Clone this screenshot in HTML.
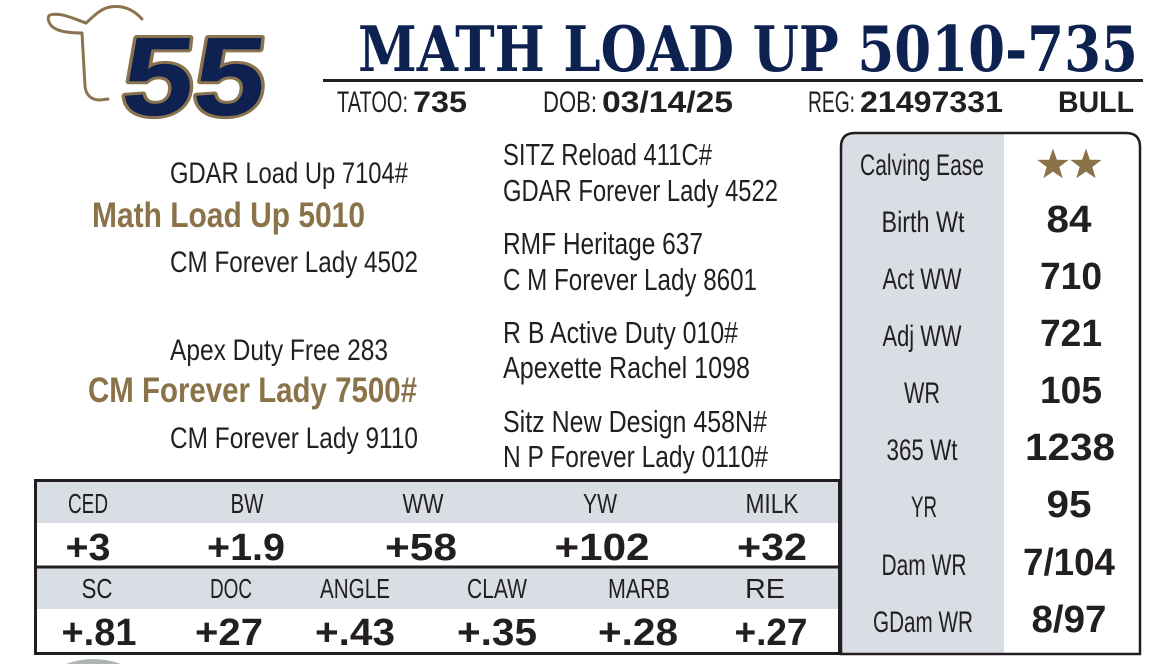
<!DOCTYPE html>
<html>
<head>
<meta charset="utf-8">
<style>
  html,body{margin:0;padding:0;background:#fff;overflow:hidden;}
  body{width:1168px;height:664px;}
  svg{display:block;}
  .lt{font-family:"Liberation Sans Narrow","Liberation Sans",sans-serif;font-weight:normal;fill:#231f20;}
  .bd{font-family:"Liberation Sans",sans-serif;font-weight:bold;fill:#231f20;}
  .gd{font-family:"Liberation Sans Narrow","Liberation Sans",sans-serif;font-weight:bold;fill:#8a7349;}
</style>
</head>
<body>
<svg width="1168" height="664" viewBox="0 0 1168 664" xmlns="http://www.w3.org/2000/svg">
  <rect x="0" y="0" width="1168" height="664" fill="#ffffff"/>

  <!-- Cow head outline -->
  <g fill="none" stroke="#8a7450" stroke-width="3" stroke-linecap="round" stroke-linejoin="round">
    <path d="M86,23 C72,18 60,12 50,15 C46,17 49,26 56,29 C62,32 72,33 82,33 C83,50 84,70 85,86 C86,96 92,100 100,100 L108,99"/>
    <path d="M86,23 C94,16 100,9 110,7 C122,5 133,9 142,19"/>
  </g>

  <!-- 55 -->
  <text x="119" y="115" transform="translate(0,115) skewX(-6) translate(0,-115)" font-family="Liberation Sans, sans-serif" font-weight="bold" font-size="112" textLength="143" lengthAdjust="spacingAndGlyphs" fill="#0e2150" stroke="#8a7450" stroke-width="6" paint-order="stroke" stroke-linejoin="round">55</text>

  <!-- Title -->
  <text x="358" y="71" font-family="DejaVu Serif, Liberation Serif, serif" font-weight="bold" font-size="63" textLength="780" lengthAdjust="spacingAndGlyphs" fill="#0e2251">MATH LOAD UP 5010-735</text>
  <rect x="323" y="79" width="820" height="3" fill="#231f20"/>

  <!-- info line -->
  <text class="lt" x="337" y="112" font-size="30" textLength="71" lengthAdjust="spacingAndGlyphs">TATOO:</text>
  <text class="bd" x="413" y="112" font-size="30" textLength="54" lengthAdjust="spacingAndGlyphs">735</text>
  <text class="lt" x="543" y="112" font-size="30" textLength="54" lengthAdjust="spacingAndGlyphs">DOB:</text>
  <text class="bd" x="602" y="112" font-size="30" textLength="131" lengthAdjust="spacingAndGlyphs">03/14/25</text>
  <text class="lt" x="808" y="112" font-size="30" textLength="47" lengthAdjust="spacingAndGlyphs">REG:</text>
  <text class="bd" x="860" y="112" font-size="30" textLength="143" lengthAdjust="spacingAndGlyphs">21497331</text>
  <text class="bd" x="1058" y="112" font-size="30" textLength="76" lengthAdjust="spacingAndGlyphs">BULL</text>

  <!-- Pedigree left -->
  <text class="lt" x="170" y="183" font-size="30" textLength="238" lengthAdjust="spacingAndGlyphs">GDAR Load Up 7104#</text>
  <text class="gd" x="92" y="227" font-size="35" textLength="273" lengthAdjust="spacingAndGlyphs">Math Load Up 5010</text>
  <text class="lt" x="170" y="272" font-size="30" textLength="248" lengthAdjust="spacingAndGlyphs">CM Forever Lady 4502</text>
  <text class="lt" x="170" y="360" font-size="30" textLength="218" lengthAdjust="spacingAndGlyphs">Apex Duty Free 283</text>
  <text class="gd" x="88" y="402" font-size="35" textLength="329" lengthAdjust="spacingAndGlyphs">CM Forever Lady 7500#</text>
  <text class="lt" x="170" y="448" font-size="30" textLength="248" lengthAdjust="spacingAndGlyphs">CM Forever Lady 9110</text>

  <!-- Pedigree right -->
  <text class="lt" x="503" y="165" font-size="31" textLength="209" lengthAdjust="spacingAndGlyphs">SITZ Reload 411C#</text>
  <text class="lt" x="503" y="201" font-size="31" textLength="275" lengthAdjust="spacingAndGlyphs">GDAR Forever Lady 4522</text>
  <text class="lt" x="503" y="254" font-size="31" textLength="200" lengthAdjust="spacingAndGlyphs">RMF Heritage 637</text>
  <text class="lt" x="503" y="290" font-size="31" textLength="254" lengthAdjust="spacingAndGlyphs">C M Forever Lady 8601</text>
  <text class="lt" x="503" y="343" font-size="31" textLength="235" lengthAdjust="spacingAndGlyphs">R B Active Duty 010#</text>
  <text class="lt" x="503" y="378" font-size="31" textLength="247" lengthAdjust="spacingAndGlyphs">Apexette Rachel 1098</text>
  <text class="lt" x="503" y="432" font-size="31" textLength="264" lengthAdjust="spacingAndGlyphs">Sitz New Design 458N#</text>
  <text class="lt" x="503" y="467" font-size="31" textLength="265" lengthAdjust="spacingAndGlyphs">N P Forever Lady 0110#</text>

  <!-- Right stats panel -->
  <path d="M841,654 L841,147 Q841,133 855,133 L1004,133 L1004,654 Z" fill="#d9dee5"/>
  <path d="M841,654 L841,147 Q841,133 855,133 L1126,133 Q1140,133 1140,147 L1140,654 Z" fill="none" stroke="#231f20" stroke-width="2.5"/>

  <g text-anchor="middle">
    <text class="lt" x="922" y="175" font-size="30" textLength="124" lengthAdjust="spacingAndGlyphs">Calving Ease</text>
    <text class="lt" x="923" y="232" font-size="30" textLength="83" lengthAdjust="spacingAndGlyphs">Birth Wt</text>
    <text class="lt" x="922" y="289" font-size="30" textLength="79" lengthAdjust="spacingAndGlyphs">Act WW</text>
    <text class="lt" x="922" y="346" font-size="30" textLength="79" lengthAdjust="spacingAndGlyphs">Adj WW</text>
    <text class="lt" x="922" y="403" font-size="30" textLength="36" lengthAdjust="spacingAndGlyphs">WR</text>
    <text class="lt" x="922" y="460" font-size="30" textLength="71" lengthAdjust="spacingAndGlyphs">365 Wt</text>
    <text class="lt" x="924" y="517" font-size="30" textLength="26" lengthAdjust="spacingAndGlyphs">YR</text>
    <text class="lt" x="924" y="575" font-size="30" textLength="85" lengthAdjust="spacingAndGlyphs">Dam WR</text>
    <text class="lt" x="923" y="632" font-size="30" textLength="100" lengthAdjust="spacingAndGlyphs">GDam WR</text>

    <text class="bd" x="1069" y="232" font-size="38" textLength="45" lengthAdjust="spacingAndGlyphs">84</text>
    <text class="bd" x="1071" y="289" font-size="38" textLength="62" lengthAdjust="spacingAndGlyphs">710</text>
    <text class="bd" x="1071" y="346" font-size="38" textLength="62" lengthAdjust="spacingAndGlyphs">721</text>
    <text class="bd" x="1071" y="403" font-size="38" textLength="62" lengthAdjust="spacingAndGlyphs">105</text>
    <text class="bd" x="1070" y="460" font-size="38" textLength="90" lengthAdjust="spacingAndGlyphs">1238</text>
    <text class="bd" x="1069" y="517" font-size="38" textLength="45" lengthAdjust="spacingAndGlyphs">95</text>
    <text class="bd" x="1069" y="575" font-size="38" textLength="92" lengthAdjust="spacingAndGlyphs">7/104</text>
    <text class="bd" x="1069" y="632" font-size="38" textLength="75" lengthAdjust="spacingAndGlyphs">8/97</text>
  </g>

  <!-- Stars -->
  <g fill="#8a7349">
    <polygon transform="translate(1053,165)" points="0,-16.5 3.9,-5.3 15.7,-5.1 6.3,2 9.7,13.3 0,6.6 -9.7,13.3 -6.3,2 -15.7,-5.1 -3.9,-5.3"/>
    <polygon transform="translate(1086,165)" points="0,-16.5 3.9,-5.3 15.7,-5.1 6.3,2 9.7,13.3 0,6.6 -9.7,13.3 -6.3,2 -15.7,-5.1 -3.9,-5.3"/>
  </g>

  <!-- EPD table -->
  <rect x="37" y="482" width="802" height="41" fill="#d9dee5"/>
  <rect x="37" y="568" width="802" height="41" fill="#d9dee5"/>
  <rect x="35.5" y="480.5" width="804" height="173" fill="none" stroke="#231f20" stroke-width="3"/>
  <rect x="35" y="565.5" width="805" height="3" fill="#231f20"/>

  <g text-anchor="middle">
    <text class="lt" x="88" y="513" font-size="28" textLength="40" lengthAdjust="spacingAndGlyphs">CED</text>
    <text class="lt" x="247" y="513" font-size="28" textLength="33" lengthAdjust="spacingAndGlyphs">BW</text>
    <text class="lt" x="423" y="513" font-size="28" textLength="41" lengthAdjust="spacingAndGlyphs">WW</text>
    <text class="lt" x="600" y="513" font-size="28" textLength="34" lengthAdjust="spacingAndGlyphs">YW</text>
    <text class="lt" x="772" y="513" font-size="28" textLength="53" lengthAdjust="spacingAndGlyphs">MILK</text>

    <text class="bd" x="88" y="560" font-size="38" textLength="45" lengthAdjust="spacingAndGlyphs">+3</text>
    <text class="bd" x="246" y="560" font-size="38" textLength="78" lengthAdjust="spacingAndGlyphs">+1.9</text>
    <text class="bd" x="421" y="560" font-size="38" textLength="72" lengthAdjust="spacingAndGlyphs">+58</text>
    <text class="bd" x="602" y="560" font-size="38" textLength="95" lengthAdjust="spacingAndGlyphs">+102</text>
    <text class="bd" x="772" y="560" font-size="38" textLength="70" lengthAdjust="spacingAndGlyphs">+32</text>

    <text class="lt" x="97" y="598" font-size="28" textLength="31" lengthAdjust="spacingAndGlyphs">SC</text>
    <text class="lt" x="231" y="598" font-size="28" textLength="42" lengthAdjust="spacingAndGlyphs">DOC</text>
    <text class="lt" x="355" y="598" font-size="28" textLength="70" lengthAdjust="spacingAndGlyphs">ANGLE</text>
    <text class="lt" x="497" y="598" font-size="28" textLength="60" lengthAdjust="spacingAndGlyphs">CLAW</text>
    <text class="lt" x="639" y="598" font-size="28" textLength="62" lengthAdjust="spacingAndGlyphs">MARB</text>
    <text class="lt" x="765" y="598" font-size="28" textLength="40" lengthAdjust="spacingAndGlyphs">RE</text>

    <text class="bd" x="99" y="645" font-size="38" textLength="75" lengthAdjust="spacingAndGlyphs">+.81</text>
    <text class="bd" x="229" y="645" font-size="38" textLength="68" lengthAdjust="spacingAndGlyphs">+27</text>
    <text class="bd" x="355" y="645" font-size="38" textLength="80" lengthAdjust="spacingAndGlyphs">+.43</text>
    <text class="bd" x="497" y="645" font-size="38" textLength="80" lengthAdjust="spacingAndGlyphs">+.35</text>
    <text class="bd" x="638" y="645" font-size="38" textLength="80" lengthAdjust="spacingAndGlyphs">+.28</text>
    <text class="bd" x="771" y="645" font-size="38" textLength="73" lengthAdjust="spacingAndGlyphs">+.27</text>
  </g>

  <!-- bottom-left partial shape -->
  <path d="M66,664 Q93,654 121,664 Z" fill="#aeb3b6"/>
</svg>
</body>
</html>
